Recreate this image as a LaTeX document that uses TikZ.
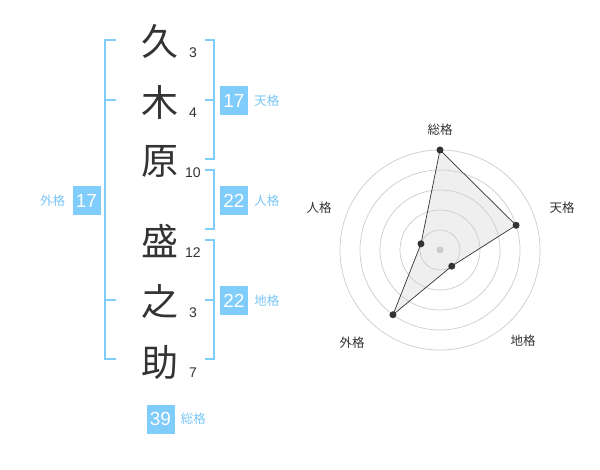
\documentclass[tikz,border=0pt]{standalone}
\usepackage{fontspec}
\setmainfont{Liberation Sans}
\newfontfamily\jpfont{Noto Sans CJK JP}
\usepackage{tikz}
\usetikzlibrary{positioning}
\definecolor{seimei}{RGB}{128,204,250}
\definecolor{seimeitxt}{RGB}{120,198,245}
\definecolor{inkgray}{RGB}{51,51,51}

\begin{document}
\begin{tikzpicture}[x=1pt,y=-1pt]
        \tikzstyle{kanji}=[font=\jpfont\fontsize{37}{37}\selectfont,
            text=inkgray,inner sep=0pt]
        \tikzstyle{stroke}=[font=\fontsize{14}{14}\selectfont,text=inkgray,inner sep=0pt]
        \tikzstyle{numbox}=[fill=seimei,text=white,font=\fontsize{19}{19}\selectfont,
            minimum width=28pt,minimum height=29pt,inner sep=0pt]
        \tikzstyle{kakulabel}=[font=\jpfont\fontsize{12.5}{12.5}\selectfont,
            text=seimeitxt,inner sep=0pt]
        \tikzstyle{bracket}=[draw=seimei,line width=2pt]
        \tikzstyle{ring}=[draw=black!20,line width=0.7pt]
        \tikzstyle{dot}=[circle,fill=inkgray,minimum size=7pt,inner sep=0pt]
        \tikzstyle{axislabel}=[font=\jpfont\fontsize{12.5}{12.5}\selectfont,
            text=inkgray,inner sep=0pt]
        \useasboundingbox (0,0) rectangle (600,470);

            % name characters and stroke counts
            \node[kanji] (k1) at (160,41) {久};
            \node[kanji] (k2) at (160,102) {木};
            \node[kanji] (k3) at (160,161) {原};
            \node[kanji] (k4) at (160,241) {盛};
            \node[kanji] (k5) at (160,301) {之};
            \node[kanji] (k6) at (160,362) {助};
            \node[stroke] (s1) at (193,53) {3};
            \node[stroke] (s2) at (193,113) {4};
            \node[stroke] (s3) at (193,173) {10};
            \node[stroke] (s4) at (193,253) {12};
            \node[stroke] (s5) at (193,313) {3};
            \node[stroke] (s6) at (193,373) {7};

            % brackets
            \draw[bracket] (116,40) -- (105,40) -- (105,359) -- (116,359);
            \draw[bracket] (105,100) -- (116,100);
            \draw[bracket] (105,300) -- (116,300);
            \draw[bracket] (205,40) -- (214,40) -- (214,159) -- (205,159);
            \draw[bracket] (214,100) -- (205,100);
            \draw[bracket] (205,170) -- (214,170) -- (214,229) -- (205,229);
            \draw[bracket] (205,240) -- (214,240) -- (214,359) -- (205,359);
            \draw[bracket] (214,300) -- (205,300);

            % totals
            \node[numbox] (ten) at (234,100.5) {17};
            \node[kakulabel,right=6pt of ten] (tenl) {天格};
            \node[numbox] (jin) at (234,200.5) {22};
            \node[kakulabel,right=6pt of jin] (jinl) {人格};
            \node[numbox] (chi) at (234,300.5) {22};
            \node[kakulabel,right=6pt of chi] (chil) {地格};
            \node[numbox] (gai) at (86.5,200.5) {17};
            \node[kakulabel,left=7pt of gai] (gail) {外格};
            \node[numbox] (sou) at (160.5,419) {39};
            \node[kakulabel,right=6pt of sou] (soul) {総格};

            % radar chart
            \begin{scope}[shift={(440,250)},y=1pt]
            \coordinate (rsou) at (90:100);
            \coordinate (rten) at (18:80);
            \coordinate (rchi) at (-54:20);
            \coordinate (rgai) at (-126:80);
            \coordinate (rjin) at (162:20);
            \fill[black!12,fill opacity=.5]
            (rsou) -- (rten) -- (rchi) -- (rgai) -- (rjin) -- cycle;
            \foreach \r in {20,40,60,80,100}
                \draw[ring] (0,0) circle (\r);
            \draw[inkgray,line width=0.7pt]
            (rsou) -- (rten) -- (rchi) -- (rgai) -- (rjin) -- cycle;
            \node[circle,fill=black!20,minimum size=7pt,inner sep=0pt] (rctr) at (0,0) {};
            \foreach \p in {rsou,rten,rchi,rgai,rjin}
                \node[dot] (\p dot) at (\p) {};
            \node[axislabel] (asou) at (0,120) {総格};
            \node[axislabel] (aten) at (122,42) {天格};
            \node[axislabel] (achi) at (83,-91) {地格};
            \node[axislabel] (agai) at (-88,-93) {外格};
            \node[axislabel] (ajin) at (-121,42) {人格};
            \end{scope}
        \end{tikzpicture}
\end{document}
